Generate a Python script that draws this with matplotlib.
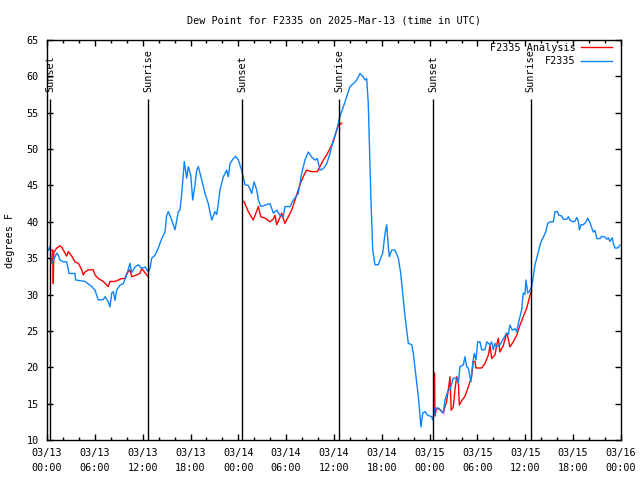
from matplotlib import pyplot as plt
import numpy as np

# hours since 03/13 00:00 UTC, dew point (F)
obs_hours = [0.16, 0.38, 0.59, 0.79, 1.22, 1.42, 1.63, 2.04, 2.47, 2.76, 3.51, 3.60, 4.77, 5.61, 6.02,
             6.44, 7.06, 7.28, 7.69, 7.90, 8.12, 8.32, 8.53, 8.74, 9.16, 9.57, 10.0, 10.41, 10.62, 11.04,
             11.45, 11.88, 12.29, 12.71, 12.92, 13.13, 13.55, 13.96, 14.39, 14.80, 15.01, 15.22, 15.64,
             16.06, 16.47, 16.68, 16.90, 17.06, 17.22, 17.52, 17.72, 18.03, 18.28, 18.53, 18.78, 18.98,
             19.41, 19.82, 20.23, 20.66, 21.07, 21.29, 21.49, 21.70, 22.12, 22.54, 22.74, 22.96, 23.37,
             23.67, 24.0, 24.42, 24.84, 25.25, 25.68, 25.97, 26.30, 26.51, 26.81, 27.35, 27.98, 28.39,
             28.81, 29.23, 29.64, 29.85, 30.48, 30.90, 31.52, 31.95, 32.36, 32.78, 33.20, 33.62, 33.91,
             34.24, 34.66, 35.09, 35.50, 35.91, 36.34, 36.75, 37.17, 37.59, 38.01, 38.42, 38.85, 39.26,
             39.68, 39.89, 40.10, 40.30, 40.43, 40.61, 40.86, 41.14, 41.56, 41.86, 42.11, 42.40, 42.61,
             42.81, 42.94, 43.24, 43.65, 44.07, 44.37, 44.62, 44.91, 45.32, 45.75, 45.95, 46.29, 46.58,
             46.79, 46.91, 47.13, 47.42, 47.75, 48.25, 48.38, 48.67, 49.09, 49.51, 49.71, 49.92, 50.34,
             50.55, 50.96, 51.39, 51.59, 51.80, 52.22, 52.43, 52.64, 52.84, 53.18, 53.40, 53.60, 53.81,
             54.02, 54.31, 54.52, 54.93, 55.16, 55.57, 55.78, 55.98, 56.19, 56.40, 56.82, 57.24, 57.66,
             57.86, 58.07, 58.36, 58.70, 58.91, 59.12, 59.54, 59.74, 59.95, 60.08, 60.30, 60.59, 60.80,
             61.00, 61.21, 61.43, 61.63, 61.84, 62.06, 62.26, 62.56, 62.81, 63.10, 63.51, 63.72, 64.01,
             64.22, 64.56, 64.77, 65.19, 65.40, 65.61, 66.02, 66.23, 66.45, 66.65, 66.78, 66.98, 67.27,
             67.61, 67.83, 68.12, 68.53, 68.74, 68.96, 69.37, 69.58, 70.00, 70.21, 70.41, 70.62, 70.91,
             71.04, 71.25, 71.59, 71.88]
obs_dewpt = [36.1, 36.6, 34.3, 34.7, 35.7, 35.4, 34.75, 34.5, 34.5, 32.9, 32.9, 32.0, 31.8, 31.1, 30.6,
             29.25, 29.3, 29.7, 29.0, 28.3, 30.2, 30.4, 29.2, 30.6, 31.3, 31.5, 32.7, 34.3, 33.0, 33.8,
             34.1, 33.6, 33.8, 33.1, 33.6, 35.0, 35.4, 36.4, 37.7, 38.6, 40.9, 41.4, 40.25,
             38.9, 41.4, 41.6, 43.9, 46.0, 48.3, 46.0, 47.6, 46.4, 43.0, 44.8, 47.1, 47.6,
             45.75, 43.9, 42.5, 40.25, 41.4, 41.0, 42.5, 44.4, 46.2, 47.1, 46.2, 48.0, 48.7,
             49.0, 48.5, 47.1, 45.1, 45.0, 43.9, 45.5, 44.4, 43.0, 42.1, 42.3, 42.5, 41.2,
             41.6, 40.9, 40.7, 42.1, 42.1, 43.0, 43.9, 46.7, 48.5, 49.6, 48.9, 48.5, 48.7,
             47.1, 47.3, 48.0, 49.4, 51.25, 52.6, 54.5, 55.8, 57.2, 58.6, 59.0, 59.5, 60.4,
             59.9, 59.5, 59.7, 56.3, 51.25, 43.9, 36.1, 34.1, 34.1, 35.0, 35.7, 38.4, 39.6,
             36.6, 35.2, 36.1, 36.1, 35.0, 32.9, 30.2, 26.95, 23.3, 23.1, 21.9, 18.7, 15.95,
             13.2, 11.8, 13.7, 13.9, 13.4, 13.2, 12.75, 14.35, 14.4, 13.9, 13.7, 15.5, 16.9,
             16.9, 18.5, 18.5, 17.8, 20.1, 20.3, 21.45, 20.1, 19.9, 18.0, 20.6, 21.9, 21.0,
             23.5, 23.5, 22.4, 22.4, 23.5, 23.1, 23.5, 22.4, 23.3, 22.8, 23.1, 23.9, 24.7,
             24.5, 25.8, 25.1, 25.3, 24.9, 26.0, 27.9, 30.2, 30.0, 32.0, 30.2, 30.6, 31.1,
             32.5, 34.1, 35.0, 35.9, 36.8, 37.5, 37.9, 38.6, 39.8, 40.0, 40.0, 41.4, 41.4,
             40.9, 40.8, 40.35, 40.35, 40.7, 40.2, 40.0, 40.1, 40.6, 40.1, 38.9, 39.6, 39.6,
             40.0, 40.5, 39.8, 38.6, 38.8, 37.7, 37.7, 38.0, 37.9, 37.6, 37.8, 37.3, 37.8,
             37.0, 36.4, 36.4, 36.8]

# analysis, three night-time pieces (NaN = gap)
ana_hours = [0.59, 0.72, 0.79, 0.85, 1.22, 1.63, 1.84, 2.26, 2.47, 2.67, 3.10, 3.51, 3.93, 4.35, 4.55,
             4.77, 5.18, 5.81, 6.02, 6.44, 7.06, 7.49, 7.69, 7.90, 8.53, 8.94, 9.37, 9.78, 10.0,
             10.41, 10.62, 11.25, 11.66, 11.88, 12.29, 12.71,
             18.0,
             24.71, 25.25, 25.88, 26.51, 26.81, 27.35, 27.98, 28.39, 28.60, 28.81, 29.14, 29.44,
             29.64, 29.85, 30.27, 30.69, 31.11, 31.52, 31.95, 32.36, 32.57, 33.20, 33.91, 34.24,
             34.66, 35.09, 35.50, 35.91, 36.34, 36.54, 36.97,
             42.0,
             48.62, 48.66, 48.84, 49.30, 49.71, 49.92, 50.13, 50.34, 50.55, 50.70, 50.96, 51.18,
             51.39, 51.59, 51.72, 52.01, 52.43, 52.84, 53.26, 53.47, 53.68, 53.81, 54.52, 54.93,
             55.36, 55.57, 55.78, 56.19, 56.40, 56.61, 56.82, 57.24, 57.66, 57.86, 58.07, 58.49,
             58.91, 59.33, 59.74, 60.16, 60.59, 60.80]
ana_dewpt = [36.1, 36.1, 31.5, 35.8, 36.4, 36.7, 36.5, 35.7, 35.3, 35.9, 35.3, 34.5, 34.3, 33.4, 32.7,
             33.1, 33.4, 33.4, 32.7, 32.2, 31.8, 31.3, 31.1, 31.8, 31.8, 32.0, 32.2, 32.2, 32.9,
             33.4, 32.45, 32.7, 32.9, 33.6, 33.0, 32.45,
             np.nan,
             42.8, 41.4, 40.25, 42.1, 40.7, 40.5, 40.0, 40.4, 40.9, 39.6, 40.4, 41.2,
             40.4, 39.8, 40.7, 41.6, 43.0, 44.4, 45.75, 46.7, 47.1, 46.9, 46.9, 47.6,
             48.5, 49.2, 50.1, 51.0, 52.6, 53.3, 53.55,
             np.nan,
             19.2, 13.3, 14.35, 14.2, 13.7, 14.6, 15.3, 16.9, 18.7, 14.1, 14.5, 17.0,
             18.7, 18.3, 14.8, 15.4, 16.0, 17.3, 18.7, 20.8, 20.8, 19.9, 19.9, 20.5,
             21.7, 23.0, 21.2, 21.7, 23.0, 24.0, 22.1, 23.0, 24.7, 23.9, 22.8, 23.5,
             24.4, 25.8, 26.95, 28.1, 29.9, 30.6]

event_hours = [0.40, 12.68, 24.50, 36.68, 48.41, 60.69]
event_names = ["Sunset", "Sunrise", "Sunset", "Sunrise", "Sunset", "Sunrise"]

tick_hours = list(range(0, 73, 6))
tick_labels = ["03/13\n00:00", "03/13\n06:00", "03/13\n12:00", "03/13\n18:00",
               "03/14\n00:00", "03/14\n06:00", "03/14\n12:00", "03/14\n18:00",
               "03/15\n00:00", "03/15\n06:00", "03/15\n12:00", "03/15\n18:00",
               "03/16\n00:00"]

plt.rcParams['font.family'] = ['DejaVu Sans Mono']
plt.rcParams['font.size'] = 7.3

fig = plt.figure(figsize=(6.4, 4.8), dpi=100)
ax = fig.add_axes([47/640, 40/480, 574/640, 400/480])

ax.plot(ana_hours, ana_dewpt, color='#ff0000', linewidth=1, label='F2335 Analysis')
ax.plot(obs_hours, obs_dewpt, color='#0a84ff', linewidth=1, label='F2335')

for h, name in zip(event_hours, event_names):
    ax.vlines(h, 10, 56.9, color='black', linewidth=1)
    ax.text(h, 57.8, name, rotation=90, ha='center', va='bottom')

ax.set_xlim(0, 72)
ax.set_ylim(10, 65)
ax.set_xticks(tick_hours)
ax.set_xticklabels(tick_labels, linespacing=1.55)
ax.set_xticks(range(0, 73, 2), minor=True)
ax.set_yticks(range(10, 66, 5))
ax.tick_params(which='both', direction='in', top=True, right=True, width=1)
ax.tick_params(which='major', length=4, pad=6)
ax.tick_params(which='minor', length=2.5)
for s in ax.spines.values():
    s.set_linewidth(1)

ax.set_ylabel('degrees F', labelpad=8)
ax.set_title('Dew Point for F2335 on 2025-Mar-13 (time in UTC)', fontsize=7.3, pad=12)

ax.legend(loc='upper right', bbox_to_anchor=(0.984, 0.993), frameon=False, markerfirst=False,
          handlelength=3.0, handletextpad=0.6, labelspacing=0.35, borderpad=0, borderaxespad=0)

fig.savefig('out.png', dpi=100)
